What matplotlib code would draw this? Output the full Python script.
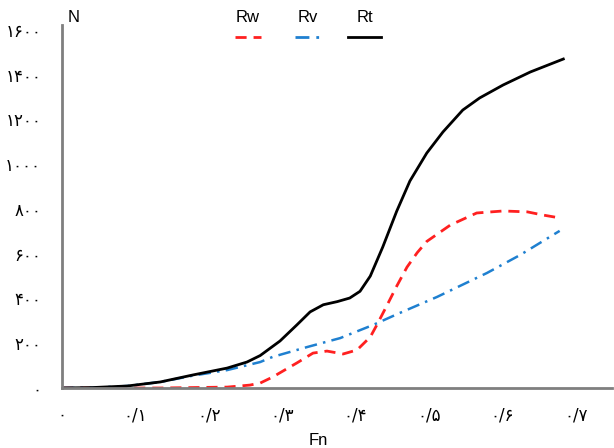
import matplotlib
matplotlib.use("Agg")
import matplotlib.pyplot as plt
from matplotlib.lines import Line2D

# Data (Fn, N)
fn_rt = [0.0, 0.042, 0.089, 0.134, 0.178, 0.225, 0.252, 0.270, 0.297, 0.320, 0.338,
         0.356, 0.375, 0.392, 0.406, 0.420, 0.437, 0.456, 0.474, 0.497, 0.519,
         0.546, 0.569, 0.601, 0.638, 0.683]
rt = [0, 2, 9, 27, 58, 89, 116, 145, 210, 282, 340,
      372, 386, 402, 432, 500, 630, 790, 925, 1050, 1144,
      1242, 1296, 1354, 1412, 1470]

fn_rv = [0.0, 0.042, 0.089, 0.134, 0.178, 0.225, 0.270, 0.287, 0.334, 0.379, 0.424,
         0.460, 0.511, 0.579, 0.624, 0.678]
rv = [0, 1, 9, 27, 55, 80, 116, 139, 183, 223, 282,
      335, 407, 514, 594, 702]

fn_rw = [0.0, 0.025, 0.134, 0.225, 0.256, 0.270, 0.287, 0.320, 0.342, 0.361, 0.383,
         0.402, 0.420, 0.429, 0.443, 0.456, 0.470, 0.484, 0.497, 0.529, 0.565, 0.601,
         0.634, 0.655, 0.678]
rw = [0, 0, 0, 4, 13, 22, 49, 112, 156, 165, 152,
      170, 228, 282, 371, 455, 540, 605, 655, 728, 782, 791,
      787, 773, 760]

xticks = [0.0, 0.1, 0.2, 0.3, 0.4, 0.5, 0.6, 0.7]
xticklabels = ['۰', '۰/۱', '۰/۲', '۰/۳', '۰/۴', '۰/۵', '۰/۶', '۰/۷']
yticks = [0, 200, 400, 600, 800, 1000, 1200, 1400, 1600]
yticklabels = ['۰', '۲۰۰', '۴۰۰', '۶۰۰', '۸۰۰', '۱۰۰۰', '۱۲۰۰', '۱۴۰۰', '۱۶۰۰']

W, H = 614, 448
fig = plt.figure(figsize=(W / 100, H / 100), dpi=100)
ax = fig.add_axes([62 / W, (H - 388) / H, (612 - 62) / W, (388 - 25) / H])

rw_ls = (0, (4, 2.5))
rv_ls = (0, (5, 2.5, 1, 2.5))
ax.plot(fn_rw, rw, color='#ff2020', lw=2, linestyle=rw_ls)
ax.plot(fn_rv, rv, color='#1f80d0', lw=1.8, linestyle=rv_ls)
ax.plot(fn_rt, rt, color='black', lw=2)

ax.set_xlim(0, (612 - 62) / 734)
ax.set_ylim(0, 1622)
for s in ['top', 'right']:
    ax.spines[s].set_visible(False)
for s in ['left', 'bottom']:
    ax.spines[s].set_color('#7f7f7f')
    ax.spines[s].set_linewidth(2)

ax.set_xticks(xticks)
ax.set_xticklabels(xticklabels, family=['DejaVu Sans'], fontsize=12)
ax.set_yticks(yticks)
ax.set_yticklabels(yticklabels, family=['DejaVu Sans'], fontsize=12)
ax.tick_params(axis='x', length=0, pad=13)
ax.tick_params(axis='y', length=0, pad=15)

fig.text(318 / W, 1 - 440 / H, 'Fn', ha='center', va='center', fontsize=12,
         family=['Liberation Sans'])
fig.text(74 / W, 1 - 17 / H, 'N', ha='center', va='center', fontsize=12,
         family=['Liberation Sans'])

# Legend (labels above their line samples)
legend_items = [('Rw', 248, '#ff2020', rw_ls, 235, 261),
                ('Rv', 308, '#1f80d0', rv_ls, 295, 325),
                ('Rt', 365, 'black', '-', 348, 381)]
for lab, cx, col, ls, x0, x1 in legend_items:
    fig.text(cx / W, 1 - 18 / H, lab, ha='center', va='center', fontsize=12,
             family=['Liberation Sans'])
    fig.add_artist(Line2D([x0 / W, x1 / W], [1 - 37 / H, 1 - 37 / H],
                          color=col, lw=2, linestyle=ls, transform=fig.transFigure))

fig.savefig('out.png', dpi=100)
